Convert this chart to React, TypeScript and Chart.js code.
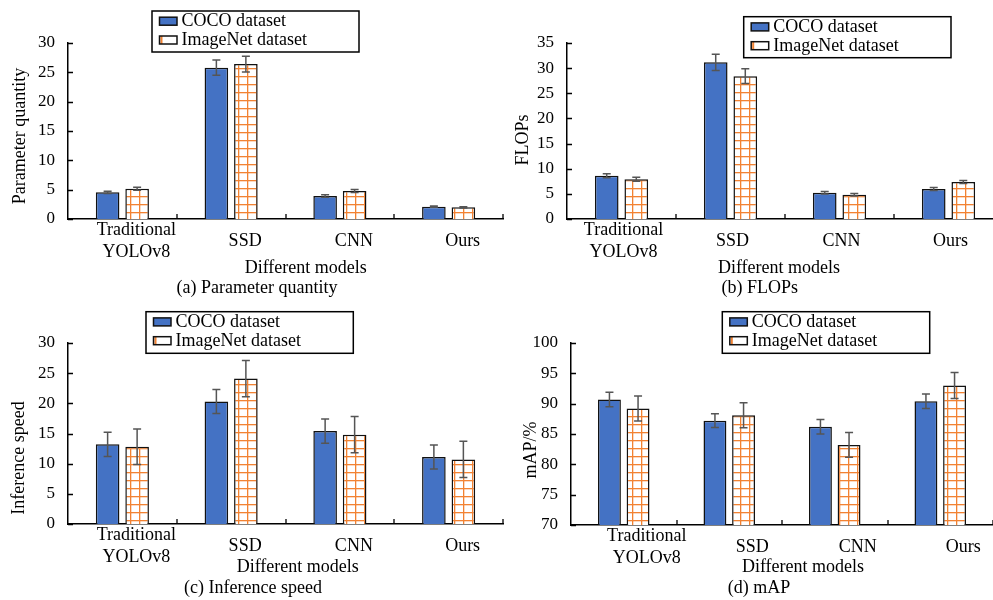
import React, { useEffect, useRef } from 'react';
import { Chart, registerables } from 'chart.js';

Chart.register(...registerables);

// ---------------- data ----------------
const categories: string[][] = [['Traditional', 'YOLOv8'], ['SSD'], ['CNN'], ['Ours']];
const seriesNames = ['COCO dataset', 'ImageNet dataset'];

const paramCoco = [4.55, 25.8, 3.92, 2.1];
const paramCocoErr = [0.2, 1.3, 0.2, 0.1];
const paramImageNet = [5.17, 26.4, 4.77, 1.99];
const paramImageNetErr = [0.25, 1.33, 0.25, 0.1];

const flopsCoco = [8.6, 31.15, 5.23, 5.96];
const flopsCocoErr = [0.4, 1.6, 0.25, 0.3];
const flopsImageNet = [7.9, 28.4, 4.84, 7.36];
const flopsImageNetErr = [0.4, 1.46, 0.25, 0.3];

const speedCoco = [13.2, 20.3, 15.4, 11.1];
const speedCocoErr = [2.0, 2.0, 2.0, 2.0];
const speedImageNet = [12.8, 24.1, 14.8, 10.7];
const speedImageNetErr = [2.95, 3.0, 3.0, 3.0];

const mapCoco = [90.7, 87.2, 86.2, 90.4];
const mapCocoErr = [1.2, 1.12, 1.18, 1.2];
const mapImageNet = [89.2, 88.1, 83.2, 93.0];
const mapImageNetErr = [2.05, 2.05, 2.05, 2.14];

const yTicksParam = [0, 5, 10, 15, 20, 25, 30];
const yTicksFlops = [0, 5, 10, 15, 20, 25, 30, 35];
const yTicksSpeed = [0, 5, 10, 15, 20, 25, 30];
const yTicksMap = [70, 75, 80, 85, 90, 95, 100];

// ---------------- styles ----------------
const FONT = "'Liberation Serif', 'Times New Roman', serif";
const BLUE = '#4472C4';
const ORANGE = '#F28232';
const ERR = '#555555';

interface Panel {
  left: number; top: number; w: number; h: number;
  area: { l: number; r: number; t: number; b: number };
  coco: number[]; cocoErr: number[]; inet: number[]; inetErr: number[];
  yTicks: number[];
  yTitle: string; yTitlePos: [number, number];
  labelDx: number;
  xTitlePos: [number, number];
  caption: string; captionPos: [number, number];
  legend: { x: number; y: number; w: number; h: number };
}

const panels: Panel[] = [
  {
    left: 0, top: 0, w: 510, h: 300, area: { l: 68, r: 503, t: 43, b: 219 },
    coco: paramCoco, cocoErr: paramCocoErr, inet: paramImageNet, inetErr: paramImageNetErr,
    yTicks: yTicksParam, yTitle: 'Parameter quantity', yTitlePos: [20, 136], labelDx: 14,
    xTitlePos: [305.7, 268], caption: '(a) Parameter quantity', captionPos: [257, 288],
    legend: { x: 152, y: 11, w: 207, h: 41 },
  },
  {
    left: 493, top: 0, w: 520, h: 300, area: { l: 74, r: 510, t: 43, b: 219 },
    coco: flopsCoco, cocoErr: flopsCocoErr, inet: flopsImageNet, inetErr: flopsImageNetErr,
    yTicks: yTicksFlops, yTitle: 'FLOPs', yTitlePos: [30, 140], labelDx: 2,
    xTitlePos: [286, 268], caption: '(b) FLOPs', captionPos: [266.7, 288],
    legend: { x: 250.7, y: 16.7, w: 207.3, h: 41 },
  },
  {
    left: 0, top: 300, w: 510, h: 300, area: { l: 68, r: 503, t: 43, b: 224 },
    coco: speedCoco, cocoErr: speedCocoErr, inet: speedImageNet, inetErr: speedImageNetErr,
    yTicks: yTicksSpeed, yTitle: 'Inference speed', yTitlePos: [19, 158], labelDx: 14,
    xTitlePos: [297.7, 267.3], caption: '(c) Inference speed', captionPos: [253, 288.3],
    legend: { x: 146, y: 11.7, w: 207.3, h: 41.6 },
  },
  {
    left: 493, top: 300, w: 500, h: 300, area: { l: 78, r: 500, t: 43, b: 225 },
    coco: mapCoco, cocoErr: mapCocoErr, inet: mapImageNet, inetErr: mapImageNetErr,
    yTicks: yTicksMap, yTitle: 'mAP/%', yTitlePos: [38.3, 150], labelDx: 23,
    xTitlePos: [310, 267.3], caption: '(d) mAP', captionPos: [266, 288.3],
    legend: { x: 229.3, y: 11.7, w: 207.4, h: 41.6 },
  },
];

function makePattern(): CanvasPattern | string {
  const c = document.createElement('canvas');
  c.width = 9; c.height = 8;
  const g = c.getContext('2d');
  if (!g) return '#fff';
  g.fillStyle = '#ffffff';
  g.fillRect(0, 0, 9, 8);
  g.fillStyle = ORANGE;
  g.fillRect(4, 0, 1.3, 8);
  g.fillRect(0, 4, 9, 1.3);
  const p = g.createPattern(c, 'repeat');
  return p || '#fff';
}

function overlayPlugin(p: Panel, pattern: CanvasPattern | string) {
  return {
    id: 'overlay',
    afterDatasetsDraw(chart: any) {
      const ctx: CanvasRenderingContext2D = chart.ctx;
      const ys = chart.scales.y;
      const errs = [p.cocoErr, p.inetErr];
      const vals = [p.coco, p.inet];
      ctx.save();
      ctx.strokeStyle = ERR;
      ctx.lineWidth = 1.5;
      [0, 1].forEach((di) => {
        const meta = chart.getDatasetMeta(di);
        meta.data.forEach((el: any, j: number) => {
          const v = vals[di][j];
          const e = errs[di][j];
          const x = el.x;
          const y1 = ys.getPixelForValue(v + e);
          const y2 = ys.getPixelForValue(v - e);
          ctx.beginPath();
          ctx.moveTo(x, y1); ctx.lineTo(x, y2);
          ctx.moveTo(x - 4, y1); ctx.lineTo(x + 4, y1);
          ctx.moveTo(x - 4, y2); ctx.lineTo(x + 4, y2);
          ctx.stroke();
        });
      });
      ctx.restore();
    },
    afterDraw(chart: any) {
      const ctx: CanvasRenderingContext2D = chart.ctx;
      const xs = chart.scales.x;
      const ys = chart.scales.y;
      const area = chart.chartArea;
      ctx.save();
      // inward ticks
      ctx.strokeStyle = '#000';
      ctx.lineWidth = 1.3;
      ctx.beginPath();
      ys.ticks.forEach((t: any) => {
        const py = Math.round(ys.getPixelForValue(t.value)) + 0.5;
        ctx.moveTo(area.left, py); ctx.lineTo(area.left + 5, py);
      });
      const half = (xs.getPixelForValue(1) - xs.getPixelForValue(0)) / 2;
      categories.forEach((_, j) => {
        const px = Math.round(xs.getPixelForValue(j) + half);
        ctx.moveTo(px, area.bottom); ctx.lineTo(px, area.bottom - 5);
      });
      ctx.stroke();

      // category labels
      ctx.fillStyle = '#000';
      ctx.font = `18px ${FONT}`;
      ctx.textAlign = 'center';
      ctx.textBaseline = 'middle';
      categories.forEach((lines, j) => {
        const cx = xs.getPixelForValue(j) + p.labelDx;
        if (lines.length === 2) {
          ctx.fillText(lines[0], cx, area.bottom + 11.5);
          ctx.fillText(lines[1], cx, area.bottom + 33);
        } else {
          ctx.fillText(lines[0], cx, area.bottom + 22);
        }
      });
      // x title and caption
      ctx.fillText('Different models', p.xTitlePos[0], p.xTitlePos[1]);
      ctx.fillText(p.caption, p.captionPos[0], p.captionPos[1]);
      // y title
      ctx.save();
      ctx.translate(p.yTitlePos[0], p.yTitlePos[1]);
      ctx.rotate(-Math.PI / 2);
      ctx.fillText(p.yTitle, 0, 0);
      ctx.restore();

      // legend
      const L = p.legend;
      ctx.fillStyle = '#fff';
      ctx.fillRect(L.x, L.y, L.w, L.h);
      ctx.strokeStyle = '#000';
      ctx.lineWidth = 1.5;
      ctx.strokeRect(L.x, L.y, L.w, L.h);
      const rows = [L.y + 10.2, L.y + 29];
      rows.forEach((ry, i) => {
        const sx = L.x + 7.5, sy = ry - 4, sw = 17.5, sh = 8;
        if (i === 0) {
          ctx.fillStyle = BLUE;
          ctx.fillRect(sx, sy, sw, sh);
        } else {
          ctx.fillStyle = '#fff';
          ctx.fillRect(sx, sy, sw, sh);
          ctx.fillStyle = ORANGE;
          ctx.fillRect(sx + 1, sy, 2, sh);
        }
        ctx.strokeStyle = '#111';
        ctx.lineWidth = 1.5;
        ctx.strokeRect(sx, sy, sw, sh);
        ctx.fillStyle = '#000';
        ctx.textAlign = 'left';
        ctx.font = `18px ${FONT}`;
        ctx.fillText(seriesNames[i], L.x + 29.5, ry + 0.5);
      });
      ctx.restore();
    },
  };
}

function PanelChart({ p }: { p: Panel }) {
  const ref = useRef<HTMLCanvasElement | null>(null);
  useEffect(() => {
    if (!ref.current) return;
    const pattern = makePattern();
    const yMin = p.yTicks[0];
    const yMax = p.yTicks[p.yTicks.length - 1];
    const chart = new Chart(ref.current, {
      type: 'bar',
      data: {
        labels: categories.map((c) => c.join(' ')),
        datasets: [
          {
            label: seriesNames[0], data: p.coco, backgroundColor: BLUE,
            borderColor: '#111', borderWidth: 1.5,
            categoryPercentage: 0.5425, barPercentage: 0.8,
          },
          {
            label: seriesNames[1], data: p.inet, backgroundColor: pattern as any,
            borderColor: '#111', borderWidth: 1.5,
            categoryPercentage: 0.5425, barPercentage: 0.8,
          },
        ],
      },
      options: {
        responsive: false,
        animation: false,
        devicePixelRatio: 1,
        layout: { padding: { left: 0, right: p.w - p.area.r, top: p.area.t, bottom: 0 } },
        plugins: { legend: { display: false }, tooltip: { enabled: false }, title: { display: false } },
        scales: {
          x: {
            type: 'category',
            ticks: { display: false },
            grid: { display: false },
            border: { display: true, color: '#000', width: 1.5 },
            afterFit: (s: any) => { s.height = p.h - p.area.b; },
          },
          y: {
            min: yMin, max: yMax,
            afterBuildTicks: (s: any) => { s.ticks = p.yTicks.map((v) => ({ value: v })); },
            ticks: { color: '#000', font: { family: FONT, size: 17 }, padding: 5 },
            grid: { display: false },
            border: { display: true, color: '#000', width: 1.5 },
            afterFit: (s: any) => { s.width = p.area.l; },
          },
        },
      },
      plugins: [overlayPlugin(p, pattern)],
    } as any);
    return () => chart.destroy();
  }, [p]);
  return (
    <canvas
      ref={ref}
      width={p.w}
      height={p.h}
      style={{ position: 'absolute', left: p.left, top: p.top, width: p.w, height: p.h, display: 'block' }}
    />
  );
}

export default function App() {
  return (
    <div style={{ position: 'fixed', left: 0, top: 0, width: 993, height: 600, overflow: 'hidden', background: '#fff' }}>
      {panels.map((p, i) => (
        <PanelChart key={i} p={p} />
      ))}
    </div>
  );
}
